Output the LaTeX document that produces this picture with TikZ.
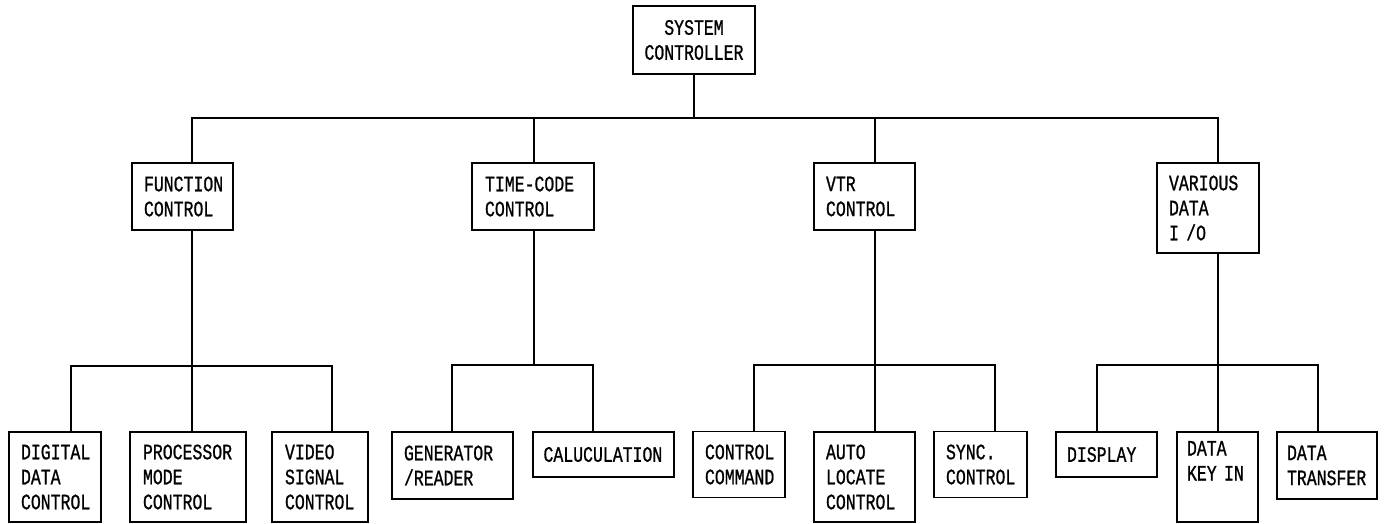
\documentclass[tikz,border=0pt]{standalone}
\usepackage{fontspec}
\newfontfamily\boxfontfam[FakeStretch=0.75,FakeBold=0.9]{Liberation Mono}
\newcommand{\boxfont}{\boxfontfam\fontsize{22pt}{25pt}\selectfont}
\begin{document}
\begin{tikzpicture}[x=1pt,y=-1pt,
  box/.style={draw, line width=1.2pt, inner sep=0pt, align=left, font=\boxfont},
  link/.style={line width=1.1pt}]
\useasboundingbox (0,0) rectangle (1387,523);
% top
\node[box, align=center, minimum width=122pt, minimum height=68pt] (sc) at (694,40) {SYSTEM\\CONTROLLER};
% middle row
\node[box, minimum width=101pt, minimum height=67pt, text width=77pt] (fc) at (182.5,196.5) {FUNCTION\\CONTROL};
\node[box, minimum width=122pt, minimum height=67pt, text width=96pt] (tc) at (533,196.5) {TIME-CODE\\CONTROL};
\node[box, minimum width=101pt, minimum height=67pt, text width=77pt] (vt) at (864.5,196.5) {VTR\\CONTROL};
\node[box, minimum width=102pt, minimum height=90pt, text width=78pt] (vd) at (1208,208) {VARIOUS\\DATA\\I /O};
% bottom row
\node[box, minimum width=92pt, minimum height=90pt, text width=68pt] (dd) at (55,477) {DIGITAL\\DATA\\CONTROL};
\node[box, minimum width=116pt, minimum height=90pt, text width=90pt] (pm) at (188,477) {PROCESSOR\\MODE\\CONTROL};
\node[box, minimum width=96pt, minimum height=90pt, text width=70pt] (vs) at (320,477) {VIDEO\\SIGNAL\\CONTROL};
\node[box, minimum width=121pt, minimum height=67pt, text width=97pt] (gr) at (452.5,465.5) {GENERATOR\\/READER};
\node[box, minimum width=141pt, minimum height=45pt, text width=120pt] (ca) at (603.5,454.5) {CALUCULATION};
\node[box, minimum width=92pt, minimum height=66pt, text width=68pt] (cc) at (739,464.5) {CONTROL\\COMMAND};
\node[box, minimum width=101pt, minimum height=90pt, text width=77pt] (al) at (864.5,477) {AUTO\\LOCATE\\CONTROL};
\node[box, minimum width=93pt, minimum height=66pt, text width=69pt] (sy) at (980.5,464.5) {SYNC.\\CONTROL};
\node[box, minimum width=101pt, minimum height=45pt, text width=79pt] (di) at (1106.5,454.5) {DISPLAY};
\node[box, minimum width=81pt, minimum height=90pt, text width=61pt] (dk) at (1217.5,477) {DATA\\KEY IN\\\strut};
\node[box, minimum width=100pt, minimum height=67pt, text width=80pt] (dt) at (1327,465.5) {DATA\\TRANSFER};
% bus coordinates
\coordinate (m0) at (694,118);
\coordinate (m1) at (192,118);
\coordinate (m2) at (534,118);
\coordinate (m3) at (875,118);
\coordinate (m4) at (1218,118);
\coordinate (a1) at (71,366);
\coordinate (a2) at (192,366);
\coordinate (a3) at (332,366);
\coordinate (b1) at (452,365);
\coordinate (b2) at (534,365);
\coordinate (b3) at (593,365);
\coordinate (c1) at (754,365);
\coordinate (c2) at (875,365);
\coordinate (c3) at (995,365);
\coordinate (d1) at (1097,365);
\coordinate (d2) at (1218,365);
\coordinate (d3) at (1318,365);
% connectors
\draw[link] (sc.south) -- (m0);
\draw[link] (fc.north -| m1) |- (m4) -- (vd.north -| m4);
\draw[link] (tc.north -| m2) -- (m2);
\draw[link] (vt.north -| m3) -- (m3);
\draw[link] (fc.south -| a2) -- (pm.north -| a2);
\draw[link] (dd.north -| a1) |- (a3) -- (vs.north -| a3);
\draw[link] (tc.south -| b2) -- (b2);
\draw[link] (gr.north -| b1) |- (b3) -- (ca.north -| b3);
\draw[link] (vt.south -| c2) -- (al.north -| c2);
\draw[link] (cc.north -| c1) |- (c3) -- (sy.north -| c3);
\draw[link] (vd.south -| d2) -- (dk.north -| d2);
\draw[link] (di.north -| d1) |- (d3) -- (dt.north -| d3);
\end{tikzpicture}
\end{document}
